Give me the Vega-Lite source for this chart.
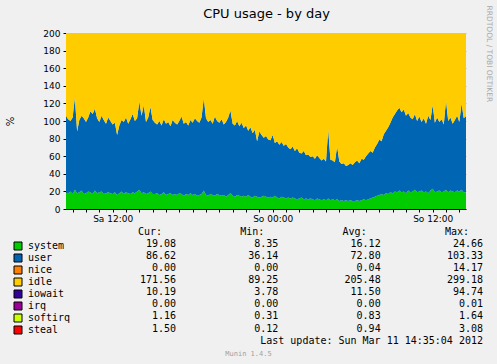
{
"$schema":"https://vega.github.io/schema/vega-lite/v6.json",
"width":400,"height":176,
"autosize":{"type":"none"},
"padding":{"left":66,"top":33,"right":31,"bottom":155},
"background":"#f0f0f0",
"config":{"view":{"stroke":null},"font":"DejaVu Sans"},
"datasets":{
"cpu":[
{"t":"2012-03-10T08:30","system":19,"user":86,"idle":183},
{"t":"2012-03-10T08:40","system":18,"user":84,"idle":186},
{"t":"2012-03-10T08:50","system":20,"user":80,"idle":188},
{"t":"2012-03-10T09:00","system":17,"user":87,"idle":184},
{"t":"2012-03-10T09:10","system":22,"user":105,"idle":161},
{"t":"2012-03-10T09:20","system":18,"user":70,"idle":200},
{"t":"2012-03-10T09:30","system":19,"user":82,"idle":187},
{"t":"2012-03-10T09:40","system":21,"user":85,"idle":182},
{"t":"2012-03-10T09:50","system":17,"user":86,"idle":185},
{"t":"2012-03-10T10:00","system":18,"user":81,"idle":189},
{"t":"2012-03-10T10:10","system":20,"user":84,"idle":184},
{"t":"2012-03-10T10:20","system":19,"user":92,"idle":177},
{"t":"2012-03-10T10:30","system":17,"user":91,"idle":180},
{"t":"2012-03-10T10:40","system":21,"user":93,"idle":174},
{"t":"2012-03-10T10:50","system":18,"user":85,"idle":185},
{"t":"2012-03-10T11:00","system":19,"user":80,"idle":189},
{"t":"2012-03-10T11:10","system":20,"user":86,"idle":182},
{"t":"2012-03-10T11:20","system":17,"user":84,"idle":187},
{"t":"2012-03-10T11:30","system":18,"user":79,"idle":191},
{"t":"2012-03-10T11:40","system":19,"user":85,"idle":184},
{"t":"2012-03-10T11:50","system":18,"user":82,"idle":188},
{"t":"2012-03-10T12:00","system":17,"user":79,"idle":192},
{"t":"2012-03-10T12:10","system":19,"user":79,"idle":190},
{"t":"2012-03-10T12:20","system":16,"user":68,"idle":204},
{"t":"2012-03-10T12:30","system":18,"user":77,"idle":193},
{"t":"2012-03-10T12:40","system":20,"user":81,"idle":187},
{"t":"2012-03-10T12:50","system":17,"user":82,"idle":189},
{"t":"2012-03-10T13:00","system":19,"user":85,"idle":184},
{"t":"2012-03-10T13:10","system":18,"user":79,"idle":191},
{"t":"2012-03-10T13:20","system":17,"user":85,"idle":186},
{"t":"2012-03-10T13:30","system":19,"user":89,"idle":180},
{"t":"2012-03-10T13:40","system":18,"user":82,"idle":188},
{"t":"2012-03-10T13:50","system":20,"user":83,"idle":185},
{"t":"2012-03-10T14:00","system":22,"user":100,"idle":166},
{"t":"2012-03-10T14:10","system":18,"user":88,"idle":182},
{"t":"2012-03-10T14:20","system":19,"user":99,"idle":170},
{"t":"2012-03-10T14:30","system":17,"user":82,"idle":189},
{"t":"2012-03-10T14:40","system":18,"user":86,"idle":184},
{"t":"2012-03-10T14:50","system":20,"user":96,"idle":172},
{"t":"2012-03-10T15:00","system":17,"user":84,"idle":187},
{"t":"2012-03-10T15:10","system":17,"user":81,"idle":190},
{"t":"2012-03-10T15:20","system":18,"user":78,"idle":192},
{"t":"2012-03-10T15:30","system":16,"user":84,"idle":188},
{"t":"2012-03-10T15:40","system":17,"user":78,"idle":193},
{"t":"2012-03-10T15:50","system":19,"user":83,"idle":186},
{"t":"2012-03-10T16:00","system":16,"user":81,"idle":191},
{"t":"2012-03-10T16:10","system":17,"user":82,"idle":189},
{"t":"2012-03-10T16:20","system":18,"user":76,"idle":194},
{"t":"2012-03-10T16:30","system":16,"user":85,"idle":187},
{"t":"2012-03-10T16:40","system":17,"user":81,"idle":190},
{"t":"2012-03-10T16:50","system":16,"user":80,"idle":192},
{"t":"2012-03-10T17:00","system":18,"user":82,"idle":188},
{"t":"2012-03-10T17:10","system":17,"user":88,"idle":183},
{"t":"2012-03-10T17:20","system":15,"user":82,"idle":191},
{"t":"2012-03-10T17:30","system":17,"user":82,"idle":189},
{"t":"2012-03-10T17:40","system":16,"user":79,"idle":193},
{"t":"2012-03-10T17:50","system":18,"user":83,"idle":187},
{"t":"2012-03-10T18:00","system":16,"user":82,"idle":190},
{"t":"2012-03-10T18:10","system":17,"user":86,"idle":185},
{"t":"2012-03-10T18:20","system":15,"user":85,"idle":188},
{"t":"2012-03-10T18:30","system":16,"user":82,"idle":190},
{"t":"2012-03-10T18:40","system":17,"user":87,"idle":184},
{"t":"2012-03-10T18:50","system":21,"user":105,"idle":162},
{"t":"2012-03-10T19:00","system":16,"user":87,"idle":185},
{"t":"2012-03-10T19:10","system":15,"user":84,"idle":189},
{"t":"2012-03-10T19:20","system":17,"user":84,"idle":187},
{"t":"2012-03-10T19:30","system":16,"user":81,"idle":191},
{"t":"2012-03-10T19:40","system":15,"user":90,"idle":183},
{"t":"2012-03-10T19:50","system":17,"user":83,"idle":188},
{"t":"2012-03-10T20:00","system":16,"user":82,"idle":190},
{"t":"2012-03-10T20:10","system":15,"user":87,"idle":186},
{"t":"2012-03-10T20:20","system":16,"user":80,"idle":192},
{"t":"2012-03-10T20:30","system":14,"user":85,"idle":189},
{"t":"2012-03-10T20:40","system":16,"user":88,"idle":184},
{"t":"2012-03-10T20:50","system":18,"user":94,"idle":176},
{"t":"2012-03-10T21:00","system":15,"user":82,"idle":191},
{"t":"2012-03-10T21:10","system":14,"user":81,"idle":193},
{"t":"2012-03-10T21:20","system":16,"user":84,"idle":188},
{"t":"2012-03-10T21:30","system":15,"user":79,"idle":194},
{"t":"2012-03-10T21:40","system":14,"user":84,"idle":190},
{"t":"2012-03-10T21:50","system":15,"user":77,"idle":196},
{"t":"2012-03-10T22:00","system":14,"user":81,"idle":193},
{"t":"2012-03-10T22:10","system":16,"user":73,"idle":199},
{"t":"2012-03-10T22:20","system":14,"user":79,"idle":195},
{"t":"2012-03-10T22:30","system":13,"user":73,"idle":202},
{"t":"2012-03-10T22:40","system":15,"user":75,"idle":198},
{"t":"2012-03-10T22:50","system":14,"user":63,"idle":211},
{"t":"2012-03-10T23:00","system":13,"user":75,"idle":200},
{"t":"2012-03-10T23:10","system":14,"user":70,"idle":204},
{"t":"2012-03-10T23:20","system":15,"user":66,"idle":207},
{"t":"2012-03-10T23:30","system":14,"user":69,"idle":205},
{"t":"2012-03-10T23:40","system":13,"user":66,"idle":209},
{"t":"2012-03-10T23:50","system":14,"user":64,"idle":210},
{"t":"2012-03-11T00:00","system":13,"user":71,"idle":204},
{"t":"2012-03-11T00:10","system":15,"user":60,"idle":213},
{"t":"2012-03-11T00:20","system":13,"user":64,"idle":211},
{"t":"2012-03-11T00:30","system":12,"user":61,"idle":215},
{"t":"2012-03-11T00:40","system":14,"user":62,"idle":212},
{"t":"2012-03-11T00:50","system":13,"user":59,"idle":216},
{"t":"2012-03-11T01:00","system":12,"user":62,"idle":214},
{"t":"2012-03-11T01:10","system":13,"user":57,"idle":218},
{"t":"2012-03-11T01:20","system":12,"user":56,"idle":220},
{"t":"2012-03-11T01:30","system":13,"user":58,"idle":217},
{"t":"2012-03-11T01:40","system":12,"user":54,"idle":222},
{"t":"2012-03-11T01:50","system":11,"user":58,"idle":219},
{"t":"2012-03-11T02:00","system":12,"user":52,"idle":224},
{"t":"2012-03-11T02:10","system":13,"user":50,"idle":225},
{"t":"2012-03-11T02:20","system":11,"user":55,"idle":222},
{"t":"2012-03-11T02:30","system":12,"user":49,"idle":227},
{"t":"2012-03-11T02:40","system":11,"user":51,"idle":226},
{"t":"2012-03-11T02:50","system":12,"user":47,"idle":229},
{"t":"2012-03-11T03:00","system":11,"user":49,"idle":228},
{"t":"2012-03-11T03:10","system":10,"user":47,"idle":231},
{"t":"2012-03-11T03:20","system":12,"user":49,"idle":227},
{"t":"2012-03-11T03:30","system":11,"user":47,"idle":230},
{"t":"2012-03-11T03:40","system":10,"user":45,"idle":233},
{"t":"2012-03-11T03:50","system":11,"user":46,"idle":231},
{"t":"2012-03-11T04:00","system":10,"user":44,"idle":234},
{"t":"2012-03-11T04:10","system":12,"user":78,"idle":198},
{"t":"2012-03-11T04:20","system":10,"user":46,"idle":232},
{"t":"2012-03-11T04:30","system":11,"user":44,"idle":233},
{"t":"2012-03-11T04:40","system":10,"user":43,"idle":235},
{"t":"2012-03-11T04:50","system":11,"user":60,"idle":217},
{"t":"2012-03-11T05:00","system":9,"user":45,"idle":234},
{"t":"2012-03-11T05:10","system":10,"user":41,"idle":237},
{"t":"2012-03-11T05:20","system":9,"user":43,"idle":236},
{"t":"2012-03-11T05:30","system":10,"user":39,"idle":239},
{"t":"2012-03-11T05:40","system":9,"user":41,"idle":238},
{"t":"2012-03-11T05:50","system":10,"user":42,"idle":236},
{"t":"2012-03-11T06:00","system":9,"user":41,"idle":238},
{"t":"2012-03-11T06:10","system":9,"user":44,"idle":235},
{"t":"2012-03-11T06:20","system":10,"user":45,"idle":233},
{"t":"2012-03-11T06:30","system":9,"user":43,"idle":236},
{"t":"2012-03-11T06:40","system":10,"user":47,"idle":231},
{"t":"2012-03-11T06:50","system":11,"user":45,"idle":232},
{"t":"2012-03-11T07:00","system":10,"user":50,"idle":228},
{"t":"2012-03-11T07:10","system":11,"user":52,"idle":225},
{"t":"2012-03-11T07:20","system":12,"user":54,"idle":222},
{"t":"2012-03-11T07:30","system":13,"user":51,"idle":224},
{"t":"2012-03-11T07:40","system":14,"user":56,"idle":218},
{"t":"2012-03-11T07:50","system":15,"user":59,"idle":214},
{"t":"2012-03-11T08:00","system":16,"user":63,"idle":209},
{"t":"2012-03-11T08:10","system":17,"user":60,"idle":211},
{"t":"2012-03-11T08:20","system":16,"user":69,"idle":203},
{"t":"2012-03-11T08:30","system":18,"user":71,"idle":199},
{"t":"2012-03-11T08:40","system":17,"user":76,"idle":195},
{"t":"2012-03-11T08:50","system":19,"user":79,"idle":190},
{"t":"2012-03-11T09:00","system":18,"user":86,"idle":184},
{"t":"2012-03-11T09:10","system":20,"user":88,"idle":180},
{"t":"2012-03-11T09:20","system":19,"user":93,"idle":176},
{"t":"2012-03-11T09:30","system":21,"user":94,"idle":173},
{"t":"2012-03-11T09:40","system":19,"user":91,"idle":178},
{"t":"2012-03-11T09:50","system":20,"user":93,"idle":175},
{"t":"2012-03-11T10:00","system":18,"user":88,"idle":182},
{"t":"2012-03-11T10:10","system":21,"user":88,"idle":179},
{"t":"2012-03-11T10:20","system":19,"user":85,"idle":184},
{"t":"2012-03-11T10:30","system":20,"user":82,"idle":186},
{"t":"2012-03-11T10:40","system":22,"user":86,"idle":180},
{"t":"2012-03-11T10:50","system":19,"user":81,"idle":188},
{"t":"2012-03-11T11:00","system":20,"user":85,"idle":183},
{"t":"2012-03-11T11:10","system":21,"user":78,"idle":189},
{"t":"2012-03-11T11:20","system":19,"user":84,"idle":185},
{"t":"2012-03-11T11:30","system":20,"user":77,"idle":191},
{"t":"2012-03-11T11:40","system":18,"user":88,"idle":182},
{"t":"2012-03-11T11:50","system":21,"user":80,"idle":187},
{"t":"2012-03-11T12:00","system":23,"user":95,"idle":170},
{"t":"2012-03-11T12:10","system":19,"user":79,"idle":190},
{"t":"2012-03-11T12:20","system":20,"user":84,"idle":184},
{"t":"2012-03-11T12:30","system":21,"user":78,"idle":189},
{"t":"2012-03-11T12:40","system":19,"user":83,"idle":186},
{"t":"2012-03-11T12:50","system":20,"user":76,"idle":192},
{"t":"2012-03-11T13:00","system":22,"user":101,"idle":165},
{"t":"2012-03-11T13:10","system":19,"user":81,"idle":188},
{"t":"2012-03-11T13:20","system":21,"user":83,"idle":184},
{"t":"2012-03-11T13:30","system":20,"user":77,"idle":191},
{"t":"2012-03-11T13:40","system":19,"user":82,"idle":187},
{"t":"2012-03-11T13:50","system":21,"user":85,"idle":182},
{"t":"2012-03-11T14:00","system":20,"user":79,"idle":189},
{"t":"2012-03-11T14:10","system":22,"user":98,"idle":168},
{"t":"2012-03-11T14:20","system":19,"user":84,"idle":185},
{"t":"2012-03-11T14:30","system":19.08,"user":86.62,"idle":171.56}
],
"stats":[
{"row":"system","stat":"cur","value":19.08},{"row":"system","stat":"min","value":8.35},{"row":"system","stat":"avg","value":16.12},{"row":"system","stat":"max","value":24.66},
{"row":"user","stat":"cur","value":86.62},{"row":"user","stat":"min","value":36.14},{"row":"user","stat":"avg","value":72.80},{"row":"user","stat":"max","value":103.33},
{"row":"nice","stat":"cur","value":0.00},{"row":"nice","stat":"min","value":0.00},{"row":"nice","stat":"avg","value":0.04},{"row":"nice","stat":"max","value":14.17},
{"row":"idle","stat":"cur","value":171.56},{"row":"idle","stat":"min","value":89.25},{"row":"idle","stat":"avg","value":205.48},{"row":"idle","stat":"max","value":299.18},
{"row":"iowait","stat":"cur","value":10.19},{"row":"iowait","stat":"min","value":3.78},{"row":"iowait","stat":"avg","value":11.50},{"row":"iowait","stat":"max","value":94.74},
{"row":"irq","stat":"cur","value":0.00},{"row":"irq","stat":"min","value":0.00},{"row":"irq","stat":"avg","value":0.00},{"row":"irq","stat":"max","value":0.01},
{"row":"softirq","stat":"cur","value":1.16},{"row":"softirq","stat":"min","value":0.31},{"row":"softirq","stat":"avg","value":0.83},{"row":"softirq","stat":"max","value":1.64},
{"row":"steal","stat":"cur","value":1.50},{"row":"steal","stat":"min","value":0.12},{"row":"steal","stat":"avg","value":0.94},{"row":"steal","stat":"max","value":3.08}
],
"heads":[{"row":"head","stat":"cur","label":"Cur:"},{"row":"head","stat":"min","label":"Min:"},{"row":"head","stat":"avg","label":"Avg:"},{"row":"head","stat":"max","label":"Max:"}],
"foot":[{"row":"update","stat":"max","label":"Last update: Sun Mar 11 14:35:04 2012"}]
},
"layer":[
{
"data":{"name":"cpu"},
"transform":[{"fold":["system","user","idle"],"as":["series","value"]},{"lookup":"series","from":{"data":{"values":[{"series":"system","rank":1},{"series":"user","rank":2},{"series":"idle","rank":4}]},"key":"series","fields":["rank"]}}],
"mark":{"type":"area","clip":true},
"encoding":{
"x":{"field":"t","type":"temporal","scale":{"nice":false},
 "axis":{"values":[
 {"year":2012,"month":3,"date":10,"hours":9},{"year":2012,"month":3,"date":10,"hours":10},{"year":2012,"month":3,"date":10,"hours":11},{"year":2012,"month":3,"date":10,"hours":12},
 {"year":2012,"month":3,"date":10,"hours":13},{"year":2012,"month":3,"date":10,"hours":14},{"year":2012,"month":3,"date":10,"hours":15},{"year":2012,"month":3,"date":10,"hours":16},
 {"year":2012,"month":3,"date":10,"hours":17},{"year":2012,"month":3,"date":10,"hours":18},{"year":2012,"month":3,"date":10,"hours":19},{"year":2012,"month":3,"date":10,"hours":20},
 {"year":2012,"month":3,"date":10,"hours":21},{"year":2012,"month":3,"date":10,"hours":22},{"year":2012,"month":3,"date":10,"hours":23},{"year":2012,"month":3,"date":11,"hours":0},
 {"year":2012,"month":3,"date":11,"hours":1},{"year":2012,"month":3,"date":11,"hours":2},{"year":2012,"month":3,"date":11,"hours":3},{"year":2012,"month":3,"date":11,"hours":4},
 {"year":2012,"month":3,"date":11,"hours":5},{"year":2012,"month":3,"date":11,"hours":6},{"year":2012,"month":3,"date":11,"hours":7},{"year":2012,"month":3,"date":11,"hours":8},
 {"year":2012,"month":3,"date":11,"hours":9},{"year":2012,"month":3,"date":11,"hours":10},{"year":2012,"month":3,"date":11,"hours":11},{"year":2012,"month":3,"date":11,"hours":12},
 {"year":2012,"month":3,"date":11,"hours":13},{"year":2012,"month":3,"date":11,"hours":14}],
 "labelExpr":"(timeFormat(datum.value,'%H')=='12' || timeFormat(datum.value,'%H')=='00') ? (timeFormat(datum.value,'%d')=='10' ? 'Sa ' : 'So ') + timeFormat(datum.value,'%H:%M') : ''","labelOverlap":false,"labelFont":"DejaVu Sans","labelFontSize":9,"labelColor":"#000","labelPadding":2,"tickSize":3,"tickColor":"#000","domainColor":"#000","grid":true,"gridColor":"#c06060","gridDash":[1,2],"gridOpacity":0.45,
 "title":"Munin 1.4.5","titleFont":"DejaVu Sans Mono","titleFontSize":7,"titleFontWeight":"normal","titleColor":"#a0a0a0","titleX":182,"titleY":144,"titleBaseline":"middle","titleAlign":"center"}},
"y":{"field":"value","type":"quantitative","stack":"zero","scale":{"domain":[0,200],"nice":false},
 "axis":{"values":[0,20,40,60,80,100,120,140,160,180,200],"labelFont":"DejaVu Sans","labelFontSize":9,"labelColor":"#000","labelPadding":3,"tickSize":3,"tickColor":"#000","domainColor":"#000","grid":true,"gridColor":"#c06060","gridDash":[1,2],"gridOpacity":0.45,
 "title":"%","titleFont":"DejaVu Sans","titleFontSize":10,"titleFontWeight":"normal","titleColor":"#000","titleAngle":-90,"titleX":-56,"titleY":88,"titleAlign":"center","titleBaseline":"middle"}},
"color":{"field":"series","type":"nominal",
 "scale":{"domain":["system","user","nice","idle","iowait","irq","softirq","steal"],"range":["#00CC00","#0066B3","#FF8000","#FFCC00","#330099","#990099","#CCFF00","#FF0000"]},
 "legend":{"orient":"none","legendX":-53,"legendY":208,"title":null,"symbolType":"square","symbolSize":64,"symbolStrokeColor":"#000","symbolStrokeWidth":1,"symbolOpacity":1,"labelFont":"DejaVu Sans Mono","labelFontSize":10,"labelColor":"#000","rowPadding":0,"labelOffset":5}},
"order":{"field":"rank","type":"quantitative","sort":"ascending"}
}
},
{
"encoding":{
"x":{"field":"stat","type":"nominal","scale":{"type":"point","domain":["cur","min","avg","max"],"range":[110,417],"padding":0},
 "axis":{"orient":"top","domain":false,"ticks":false,"labels":false,"grid":false,"title":"CPU usage - by day","titleFont":"DejaVu Sans","titleFontSize":13,"titleFontWeight":"normal","titleColor":"#000","titleX":200,"titleY":-20,"titleAlign":"center","titleBaseline":"middle","titleAngle":0}},
"y":{"field":"row","type":"nominal","scale":{"type":"point","domain":["head","system","user","nice","idle","iowait","irq","softirq","steal","update"],"range":[198.7,307.7],"padding":0},
 "axis":{"orient":"right","domain":false,"ticks":false,"labels":false,"grid":false,"title":"RRDTOOL / TOBI OETIKER","titleFont":"DejaVu Sans","titleFontSize":7.5,"titleFontWeight":"normal","titleColor":"#a8a8a8","titleAngle":90,"titleX":22,"titleY":-28,"titleAlign":"left","titleBaseline":"middle"}}
},
"layer":[
{"data":{"name":"stats"},"mark":{"type":"text","align":"right","baseline":"middle","font":"DejaVu Sans Mono","fontSize":10,"color":"#000"},
 "encoding":{"text":{"field":"value","type":"quantitative","format":".2f"}}},
{"data":{"name":"heads"},"mark":{"type":"text","align":"right","baseline":"middle","font":"DejaVu Sans Mono","fontSize":10,"color":"#000","dx":-14},
 "encoding":{"text":{"field":"label","type":"nominal"}}},
{"data":{"name":"foot"},"mark":{"type":"text","align":"right","baseline":"middle","font":"DejaVu Sans Mono","fontSize":10,"color":"#000"},
 "encoding":{"text":{"field":"label","type":"nominal"}}}
]
}
],
"resolve":{"scale":{"x":"independent","y":"independent"}}
}
